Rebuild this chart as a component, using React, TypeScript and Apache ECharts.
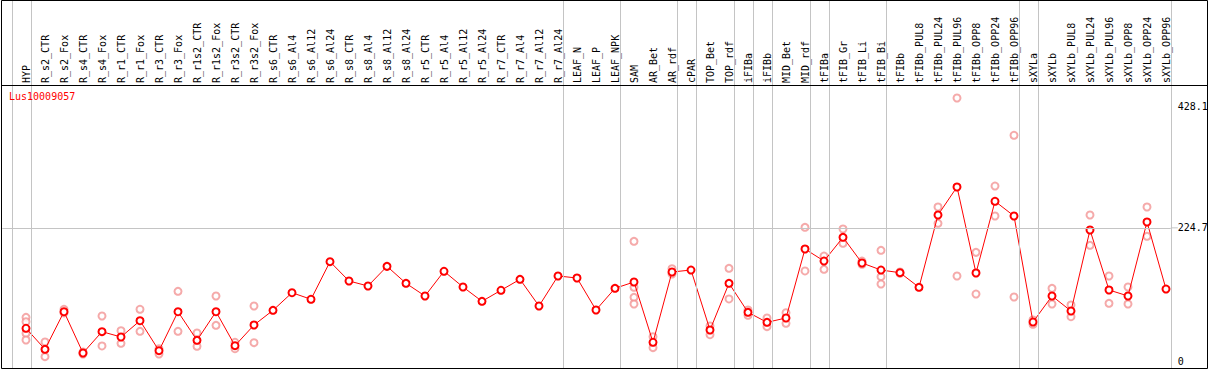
import React, { useEffect, useRef } from "react";
import * as echarts from "echarts";

const geneId = "Lus10009057";

const categories: string[] = [
  "HYP", "R_s2_CTR", "R_s2_Fox", "R_s4_CTR", "R_s4_Fox", "R_r1_CTR", "R_r1_Fox", "R_r3_CTR", "R_r3_Fox",
  "R_r1s2_CTR", "R_r1s2_Fox", "R_r3s2_CTR", "R_r3s2_Fox", "R_s6_CTR", "R_s6_Al4", "R_s6_Al12", "R_s6_Al24",
  "R_s8_CTR", "R_s8_Al4", "R_s8_Al12", "R_s8_Al24", "R_r5_CTR", "R_r5_Al4", "R_r5_Al12", "R_r5_Al24",
  "R_r7_CTR", "R_r7_Al4", "R_r7_Al12", "R_r7_Al24", "LEAF_N", "LEAF_P", "LEAF_NPK", "SAM", "AR_Bet", "AR_rdf",
  "cPAR", "TOP_Bet", "TOP_rdf", "iFIBa", "iFIBb", "MID_Bet", "MID_rdf", "tFIBa", "tFIB_Gr", "tFIB_Li", "tFIB_Bi",
  "tFIBb", "tFIBb_PUL8", "tFIBb_PUL24", "tFIBb_PUL96", "tFIBb_OPP8", "tFIBb_OPP24", "tFIBb_OPP96",
  "sXYLa", "sXYLb", "sXYLb_PUL8", "sXYLb_PUL24", "sXYLb_PUL96", "sXYLb_OPP8", "sXYLb_OPP24", "sXYLb_OPP96",
];

const meanValues: number[] = [
  56.1, 20.8, 83.9, 14.6, 50.4, 41.5, 68.8, 18.5, 83.9, 35.9, 83.9, 26.9, 61.6, 86.3, 115.8, 104.8, 167.9,
  135.5, 127.1, 160.1, 131.6, 110.3, 151.8, 125.4, 101.4, 119.9, 138.3, 93.5, 143.9, 140.5, 86.8, 123.2,
  133.8, 32.6, 150.6, 153.9, 53.2, 131.6, 82.9, 66.1, 73.4, 189.2, 169.0, 208.8, 165.7, 153.9, 149.4, 124.9,
  246.3, 293.3, 148.9, 269.3, 244.6, 66.6, 110.3, 85.1, 221.1, 120.4, 110.3, 234.5, 122.0,
];

const replicateValues: number[][] = [
  [74.5, 67.1, 47.7, 36.4], [33.1, 8.4], [88.0, 81.8], [16.3, 12.9], [76.7, 26.4], [52.0, 30.9], [88.0, 51.0],
  [21.8, 12.9], [118.2, 51.0], [48.2, 25.9], [110.3, 61.1], [32.6, 21.8], [93.5, 31.9], [], [], [], [],
  [], [], [], [], [], [], [], [], [], [], [], [], [], [], [],
  [202.1, 124.9, 108.1, 96.9], [42.0, 23.5], [156.1, 147.2], [], [59.9, 45.3], [156.8, 105.3], [86.8, 77.9],
  [73.4, 58.8], [82.3, 64.5], [225.6, 152.3], [177.4, 155.1], [222.8, 198.8], [169.0, 163.5],
  [187.0, 142.7, 130.4], [148.4, 150.6], [], [259.7, 232.3], [442.7, 143.9], [183.6, 113.6], [294.9, 244.6],
  [380.1, 108.6], [70.0, 62.8], [123.2, 96.9], [95.2, 75.5], [246.3, 195.4], [143.9, 98.0], [125.4, 96.9],
  [259.7, 210.5], [],
];

const yTickValues: number[] = [0, 224.7, 428.1];
const gridLineValues: number[] = [224.7];
// index of the last category of each group (-1 = line before the first category)
const groupEnds: number[] = [-1, 0, 28, 31, 34, 35, 37, 38, 39, 41, 42, 45, 52, 53, 60];

const FONT = "DejaVu Sans Mono";

export default function App() {
  const ref = useRef<HTMLDivElement>(null);
  useEffect(() => {
    if (!ref.current) return;
    const chart = echarts.init(ref.current, null, { renderer: "svg" });
    const xMin = -1.25;
    const xMax = 60.25;
    const sepData = groupEnds.map((g) => ({ xAxis: g + 0.25 }));
    const sepStyle = { color: "#c4c4c4", type: "solid" as const, width: 1 };
    const repPoints: number[][] = [];
    replicateValues.forEach((arr, i) => arr.forEach((v) => repPoints.push([i, v])));
    chart.setOption({
      animation: false,
      backgroundColor: "#ffffff",
      title: {
        text: geneId,
        left: 9,
        top: 91,
        padding: 0,
        textStyle: { color: "#ff0000", fontSize: 10, fontFamily: FONT, fontWeight: "normal" },
      },
      grid: [
        { left: 2.25, width: 1168.5, top: 0, height: 85, outerBoundsMode: "none", containLabel: false },
        { left: 2.25, width: 1168.5, top: 85, height: 284, outerBoundsMode: "none", containLabel: false },
      ],
      xAxis: [
        {
          type: "value", gridIndex: 0, min: xMin, max: xMax, position: "bottom",
          axisLine: { show: false }, axisTick: { show: false }, splitLine: { show: false },
          axisLabel: {
            inside: true, rotate: 90, margin: 2, fontSize: 10, fontFamily: FONT, color: "#000",
            customValues: categories.map((_, i) => i),
            formatter: (v: number) => categories[Math.round(v)] ?? "",
          },
        },
        {
          type: "value", gridIndex: 1, min: xMin, max: xMax,
          axisLine: { show: false }, axisTick: { show: false }, splitLine: { show: false },
          axisLabel: { show: false },
        },
      ],
      yAxis: [
        { type: "value", gridIndex: 0, min: 0, max: 1, show: false },
        {
          type: "value", gridIndex: 1, min: -12.25, max: 464.5, position: "right",
          axisLine: { show: false }, axisTick: { show: false }, splitLine: { show: false },
          axisLabel: {
            margin: 7, fontSize: 10, fontFamily: FONT, color: "#000",
            customValues: yTickValues,
            formatter: (v: number) => String(v),
          },
        },
      ],
      series: [
        {
          type: "line", xAxisIndex: 0, yAxisIndex: 0, data: [], silent: true,
          markLine: { silent: true, symbol: "none", label: { show: false }, lineStyle: sepStyle, data: sepData },
        },
        {
          type: "scatter", xAxisIndex: 1, yAxisIndex: 1, data: repPoints, silent: true, z: 2,
          symbol: "emptyCircle", symbolSize: 7,
          itemStyle: { color: "#f29595", borderColor: "#f29595", borderWidth: 1.2 },
          markLine: {
            silent: true, symbol: "none", label: { show: false }, lineStyle: sepStyle,
            data: [...sepData, ...gridLineValues.map((v) => ({ yAxis: v }))],
          },
        },
        {
          type: "line", xAxisIndex: 1, yAxisIndex: 1, z: 3, silent: true,
          data: meanValues.map((v, i) => [i, v]),
          symbol: "emptyCircle", symbolSize: 7, showAllSymbol: true,
          lineStyle: { color: "#ff0000", width: 1 },
          itemStyle: { color: "#ff0000", borderColor: "#ff0000", borderWidth: 1.6 },
        },
      ],
      graphic: [
        { type: "rect", silent: true, z: 100, shape: { x: 1.5, y: 0.5, width: 1206, height: 368 }, style: { fill: "none", stroke: "#000", lineWidth: 1 } },
        { type: "line", silent: true, z: 100, shape: { x1: 1, y1: 85.5, x2: 1207, y2: 85.5 }, style: { stroke: "#000", lineWidth: 1 } },
      ],
    });
    // short extension of the grid line into the label column
    const ext = gridLineValues.map((v) => {
      const p = chart.convertToPixel({ xAxisIndex: 1, yAxisIndex: 1 } as any, [xMax, v]) as number[];
      return {
        type: "line", silent: true, z: 1,
        shape: { x1: p[0], y1: p[1], x2: p[0] + 7, y2: p[1] },
        style: { stroke: "#c4c4c4", lineWidth: 1 },
      };
    });
    chart.setOption({
      graphic: [
        { type: "rect", silent: true, z: 100, shape: { x: 1.5, y: 0.5, width: 1206, height: 368 }, style: { fill: "none", stroke: "#000", lineWidth: 1 } },
        { type: "line", silent: true, z: 100, shape: { x1: 1, y1: 85.5, x2: 1207, y2: 85.5 }, style: { stroke: "#000", lineWidth: 1 } },
        ...ext,
      ],
    });
    return () => chart.dispose();
  }, []);
  return <div ref={ref} style={{ position: "fixed", left: 0, top: 0, width: 1209, height: 370 }} />;
}
